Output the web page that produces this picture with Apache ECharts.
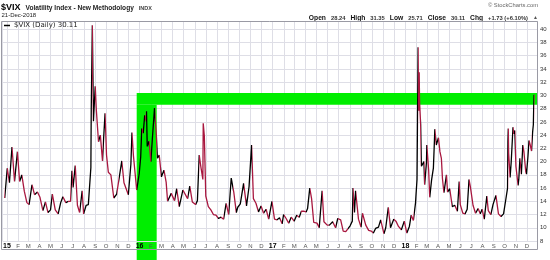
<!DOCTYPE html>
<html><head><meta charset="utf-8">
<script src="https://cdn.jsdelivr.net/npm/echarts@6/dist/echarts.min.js"></script>
<style>html,body{margin:0;padding:0;background:#fff}#c{width:550px;height:260px}</style>
</head><body><div id="c"></div>
<script>
// ---- data (VIX daily closes) ----
const d2014 = ['12-26'];
const v2014 = [14.5];
const d2015 = ['01-02','01-08','01-15','01-22','01-30','02-05','02-11','02-18','02-25','03-03','03-11','03-18','03-26','04-02','04-10','04-17','04-24','05-01','05-06','05-14','05-22','05-29','06-04','06-12','06-19','06-25','06-29','07-02','07-08','07-14','07-20','07-27','07-31','08-07','08-13','08-18','08-20','08-21','08-24','08-25','08-27','09-01','09-04','09-10','09-15','09-21','09-24','09-28','10-02','10-07','10-14','10-22','10-30','11-04','11-13','11-19','11-25','12-01','12-08','12-11','12-15','12-18','12-24','12-31'];
const v2015 = [19.0,16.8,22.2,17.0,21.5,17.0,18.0,15.5,13.8,13.5,16.5,15.0,15.4,14.6,12.6,13.9,12.3,12.7,15.1,12.7,12.1,13.8,14.7,13.8,14.0,14.0,18.6,16.1,19.4,13.4,12.3,15.6,12.1,13.4,13.5,13.8,19.1,28.0,40.6,36.0,26.1,31.4,27.8,23.0,24.0,20.1,23.5,27.3,21.0,18.4,18.0,14.5,15.1,15.0,20.1,16.8,15.9,15.0,19.6,24.4,20.9,20.7,15.7,18.2];
const d2016 = ['01-04','01-07','01-11','01-15','01-19','01-20','01-22','01-27','02-01','02-05','02-09','02-11','02-16','02-19','02-24','03-01','03-08','03-14','03-18','03-28','04-06','04-12','04-19','04-29','05-04','05-12','05-18','05-25','06-03','06-08','06-13','06-17','06-23','06-24','06-27','07-01','07-08','07-15','07-22','07-29','08-05','08-12','08-19','08-26','09-02','09-09','09-13','09-16','09-23','09-27','10-04','10-13','10-21','10-28','11-04','11-09','11-16','11-23','11-30','12-07','12-14','12-21','12-30'];
const v2016 = [20.7,25.0,24.3,27.0,26.1,27.6,22.3,23.1,20.0,23.4,26.5,28.1,24.1,20.5,21.0,17.7,18.7,16.9,14.0,15.2,14.1,15.9,13.2,15.7,15.6,14.4,16.3,13.9,13.5,14.1,21.0,19.4,17.3,25.8,23.9,14.8,13.2,12.7,12.0,11.9,11.4,11.6,11.3,13.7,12.0,17.5,17.8,15.4,12.3,13.1,13.6,16.7,13.3,16.2,22.5,14.4,13.7,12.4,13.3,12.2,12.8,11.3,14.0];
const d2017 = ['01-06','01-13','01-20','01-27','01-31','02-07','02-14','02-21','03-01','03-08','03-15','03-21','03-27','04-03','04-07','04-13','04-18','04-24','05-03','05-09','05-17','05-22','05-31','06-06','06-09','06-15','06-23','06-29','07-07','07-14','07-21','07-26','08-02','08-08','08-10','08-14','08-17','08-25','09-01','09-05','09-14','09-22','09-29','10-05','10-11','10-19','10-25','11-03','11-08','11-15','11-21','11-30','12-06','12-13','12-21','12-29'];
const v2017 = [11.3,11.2,11.5,10.6,12.0,11.4,10.7,11.6,11.0,11.9,11.6,12.5,12.5,12.4,12.9,16.0,14.4,10.8,10.7,10.0,15.6,10.9,10.4,10.4,10.7,10.9,10.0,11.4,11.2,9.5,9.4,9.4,10.3,11.0,16.0,12.3,15.6,11.3,10.1,12.2,10.4,9.6,9.5,9.2,9.9,10.1,11.2,9.1,10.0,13.1,10.0,11.3,11.0,10.2,9.7,11.0];
const d2018 = ['01-05','01-12','01-17','01-23','01-26','01-29','01-30','02-02','02-05','02-06','02-07','02-08','02-09','02-12','02-14','02-16','02-21','02-23','02-28','03-01','03-06','03-09','03-14','03-19','03-22','03-23','03-27','04-02','04-06','04-10','04-13','04-17','04-24','04-27','05-03','05-10','05-17','05-24','05-29','06-01','06-08','06-14','06-20','06-25','06-29','07-06','07-13','07-20','07-26','07-31','08-06','08-13','08-17','08-24','08-30','09-07','09-14','09-21','09-28','10-04','10-09','10-10','10-11','10-12','10-16','10-19','10-24','10-26','10-29','11-01','11-07','11-09','11-12','11-16','11-20','11-23','11-28','11-30','12-04','12-07','12-10','12-14','12-17','12-19','12-20','12-21'];
const v2018 = [9.2,10.2,11.9,11.1,11.1,13.8,14.8,17.3,37.3,30.0,27.7,33.5,29.1,25.6,19.3,19.5,20.0,16.5,19.9,22.5,18.7,14.6,17.2,19.0,23.3,24.9,22.5,23.6,21.5,20.5,17.4,15.3,18.0,15.4,15.9,13.2,13.4,12.5,17.0,13.5,12.2,12.1,12.8,17.3,16.1,13.4,12.2,12.9,12.1,12.8,11.3,14.8,12.6,12.0,13.5,14.9,12.1,11.7,12.1,14.2,16.0,23.0,25.0,21.3,17.6,19.9,25.2,24.2,24.7,19.3,16.4,17.4,20.5,18.1,22.5,21.5,18.5,18.1,20.7,23.2,22.6,21.6,24.5,25.6,28.4,30.1];
const monthLetters = ['J','F','M','A','M','J','J','A','S','O','N','D'];
const yMin = 8, yMax = 41.25, yStep = 2;
const bandLow = 28.6, bandHigh = 30.35;
const bandStart = [2015, 11, 24], bandEnd = [2016, 1, 17];
const axisStart = [2014, 11, 20], axisEnd = [2018, 11, 29];

const UP = '#000000', DOWN = '#a8173f', GREEN = '#00ee00';
const FONT = '"Liberation Sans", Arial, sans-serif';

function build(year, ds, vs) {
  return ds.map((d, i) => {
    const p = d.split('-').map(Number);
    return [new Date(year, p[0] - 1, p[1]).getTime(), vs[i]];
  });
}
const data = [].concat(build(2014, d2014, v2014), build(2015, d2015, v2015),
  build(2016, d2016, v2016), build(2017, d2017, v2017), build(2018, d2018, v2018));
const pieces = [];
for (let i = 1; i < data.length; i++) {
  if (data[i][1] > data[i - 1][1]) pieces.push({ gt: data[i - 1][0], lte: data[i][0], color: UP });
}
const ts = a => new Date(a[0], a[1], a[2]).getTime();

const chart = echarts.init(document.getElementById('c'), null, { renderer: 'canvas' });
chart.setOption({
  animation: false,
  backgroundColor: '#fff',
  textStyle: { fontFamily: FONT },
  title: [
    { left: 1, top: -1, padding: 0, text: '{a|$VIX} {b|Volatility Index - New Methodology} {c|INDX}',
      textStyle: { rich: {
        a: { fontSize: 9, fontWeight: 'bold', color: '#000', fontFamily: FONT },
        b: { fontSize: 6.6, color: '#222', fontFamily: FONT },
        c: { fontSize: 5.5, color: '#444', fontFamily: FONT } } } },
    { left: 1.5, top: 12, padding: 0, text: '21-Dec-2018', textStyle: { fontSize: 6, color: '#222', fontWeight: 'normal' } },
    { right: 12, top: 2, padding: 0, text: '© StockCharts.com', textStyle: { fontSize: 5.8, color: '#666', fontWeight: 'normal' } },
    { right: 12, top: 9, padding: 0,
      text: '{b|Open} {n|28.24} {b|High} {n|31.35} {b|Low} {n|25.71} {b|Close} {n|30.11} {b|Chg} {n|+1.73 (+6.10%)} {t|▲}',
      textStyle: { rich: {
        b: { fontSize: 6.7, fontWeight: 'bold', color: '#111', fontFamily: FONT },
        n: { fontSize: 5.8, color: '#333', fontFamily: FONT },
        t: { fontSize: 5, color: '#555', fontFamily: FONT } } } }
  ],
  legend: {
    left: 4, top: 22, padding: 0, icon: 'rect', itemWidth: 6, itemHeight: 1.5, itemGap: 2,
    textStyle: { fontSize: 7, color: '#222', fontFamily: '"DejaVu Sans", Verdana, sans-serif', padding: [0, 0, 0, -1] },
    data: [{ name: '$VIX (Daily) 30.11', itemStyle: { color: '#000' } }]
  },
  grid: { left: 1.5, right: 13, top: 21, bottom: 19, containLabel: false },
  xAxis: {
    type: 'time', min: ts(axisStart), max: ts(axisEnd), splitNumber: 37,
    axisLine: { show: false }, axisTick: { show: false },
    splitLine: { show: true, lineStyle: { color: '#dedee6', width: 1 } },
    axisLabel: {
      margin: 2, showMinLabel: false, showMaxLabel: false,
      formatter: function (v) {
        const d = new Date(v);
        if (d.getDate() !== 1) return '';
        const m = d.getMonth();
        if (m === 0) return '{y|' + String(d.getFullYear()).slice(2) + '}';
        return '{m|' + monthLetters[m] + '}';
      },
      rich: {
        y: { fontSize: 7, fontWeight: 'bold', color: '#000', fontFamily: FONT },
        m: { fontSize: 6, color: '#555', fontFamily: FONT }
      }
    }
  },
  yAxis: {
    type: 'value', position: 'right', min: yMin, max: yMax, interval: yStep,
    axisLine: { show: false }, axisTick: { show: false },
    splitLine: { show: true, lineStyle: { color: '#dedee6', width: 1 } },
    axisLabel: { margin: 3, fontSize: 6, color: '#333',
      formatter: v => (Math.abs(v % 2) < 1e-9 ? String(v) : '') }
  },
  visualMap: { show: false, type: 'piecewise', dimension: 0, seriesIndex: 0,
    pieces: pieces, outOfRange: { color: DOWN } },
  series: [{
    name: '$VIX (Daily) 30.11', type: 'line', data: data, showSymbol: false,
    lineStyle: { width: 1.3 },
    markArea: { silent: true, itemStyle: { color: GREEN, opacity: 1 },
      data: [
        [{ xAxis: ts(bandStart), yAxis: bandLow }, { yAxis: bandHigh }],
        [{ xAxis: ts(bandStart) }, { xAxis: ts(bandEnd), yAxis: bandLow }]
      ] }
  }]
});
// frame and the part of the green band that runs through the date strip
const p0 = chart.convertToPixel({ gridIndex: 0 }, [ts(bandStart), yMin]);
const p1 = chart.convertToPixel({ gridIndex: 0 }, [ts(bandEnd), yMin]);
chart.setOption({
  graphic: [
    { type: 'rect', z: -1, silent: true, shape: { x: p0[0], y: p0[1], width: p1[0] - p0[0], height: 260 - p0[1] },
      style: { fill: GREEN } },
    { type: 'rect', z: 10, silent: true, shape: { x: 1.5, y: 21.5, width: 536, height: 228 },
      style: { fill: null, stroke: '#9a9aa4', lineWidth: 1 } }
  ]
});
</script></body></html>
